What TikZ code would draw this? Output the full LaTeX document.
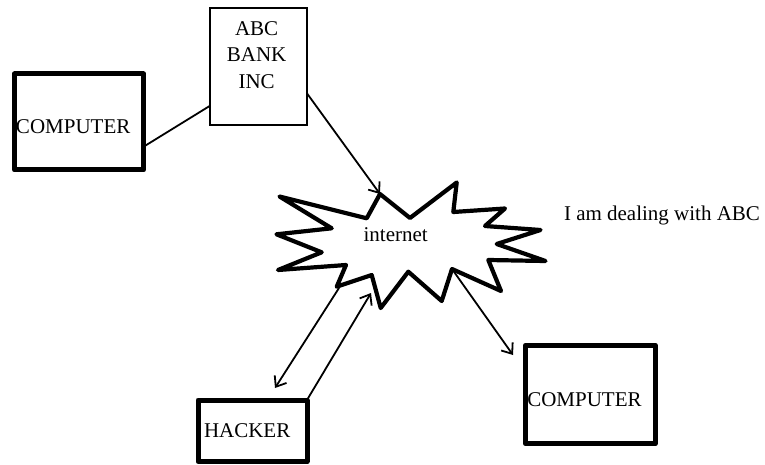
\documentclass[tikz,border=0pt]{standalone}
\usepackage{fontspec}
\setmainfont{Liberation Serif}
\usetikzlibrary{arrows.meta,calc}
\begin{document}
\begin{tikzpicture}[x=1pt,y=-1pt,
  every node/.style={inner sep=0pt,outer sep=0pt,font=\fontsize{21}{26.7}\selectfont},
  heavybox/.style={draw,line width=5pt,line join=round},
  thinbox/.style={draw,line width=1.8pt},
  plainlink/.style={line width=1.8pt},
  arrowlink/.style={line width=1.8pt,-{Straight Barb[length=9pt,width=14pt,line width=1.8pt]}},
  burst/.style={line width=4.2pt,line join=round}
]
\useasboundingbox (0,0) rectangle (765,465);

% boxes
\node[heavybox,minimum width=129pt,minimum height=96pt] (comp1) at (79,122) {};
\node[thinbox,minimum width=97pt,minimum height=117.6pt] (bank) at (258.5,66.5) {};
\node[heavybox,minimum width=130pt,minimum height=98.4pt] (comp2) at (590.3,394.5) {};
\node[heavybox,minimum width=109pt,minimum height=61.5pt] (hacker) at (252.5,430.75) {};

% box labels
\node[anchor=base west] (comp1txt) at (16,133.3) {COMPUTER};
\node[anchor=north,align=center] (banktxt) at (256.6,21.2) {ABC\\BANK\\INC};
\node[anchor=base west] (comp2txt) at (527.3,406.7) {COMPUTER};
\node[anchor=base west] (hackertxt) at (204,437.3) {HACKER};

% the internet starburst
\coordinate (sb1) at (380,194);
\coordinate (sb2) at (410,218);
\coordinate (sb3) at (456.7,182.5);
\coordinate (sb4) at (453.3,212);
\coordinate (sb5) at (505,208.5);
\coordinate (sb6) at (485,226);
\coordinate (sb7) at (540.5,230);
\coordinate (sb8) at (496.7,244);
\coordinate (sb9) at (545.5,261);
\coordinate (sb10) at (488.3,260);
\coordinate (sb11) at (501,291);
\coordinate (sb12) at (452,269);
\coordinate (sb13) at (441.7,301);
\coordinate (sb14) at (408.3,271.7);
\coordinate (sb15) at (380.7,308);
\coordinate (sb16) at (371.7,275);
\coordinate (sb17) at (336.7,286.7);
\coordinate (sb18) at (346,265);
\coordinate (sb19) at (278,270);
\coordinate (sb20) at (321.7,252.3);
\coordinate (sb21) at (276.5,234.3);
\coordinate (sb22) at (331.7,228.3);
\coordinate (sb23) at (279.5,196.5);
\coordinate (sb24) at (366.7,218.3);
\draw[burst] (sb1) -- (sb2) -- (sb3) -- (sb4) -- (sb5) -- (sb6) -- (sb7) -- (sb8)
  -- (sb9) -- (sb10) -- (sb11) -- (sb12) -- (sb13) -- (sb14) -- (sb15) -- (sb16)
  -- (sb17) -- (sb18) -- (sb19) -- (sb20) -- (sb21) -- (sb22) -- (sb23) -- (sb24) -- cycle;
\node[anchor=base] (net) at (395.7,241.7) {internet};

% free text
\node[anchor=base west] (claim) at (564,220) {I am dealing with ABC};

% arrow tips that stop short of a box
\coordinate (tipC) at (513,355);
\coordinate (tipH) at (275,388);
\coordinate (tipS) at (371,293);
\coordinate (fromS) at (339,288);

% connectors
\draw[plainlink] (comp1.-21.2) -- (bank.219.2);
\draw[arrowlink] (bank.-29.6) -- (sb1);
\draw[arrowlink] (sb12) -- (tipC);
\draw[arrowlink] (fromS) -- (tipH);
\draw[arrowlink] (hacker.north east) -- (tipS);
\end{tikzpicture}
\end{document}
